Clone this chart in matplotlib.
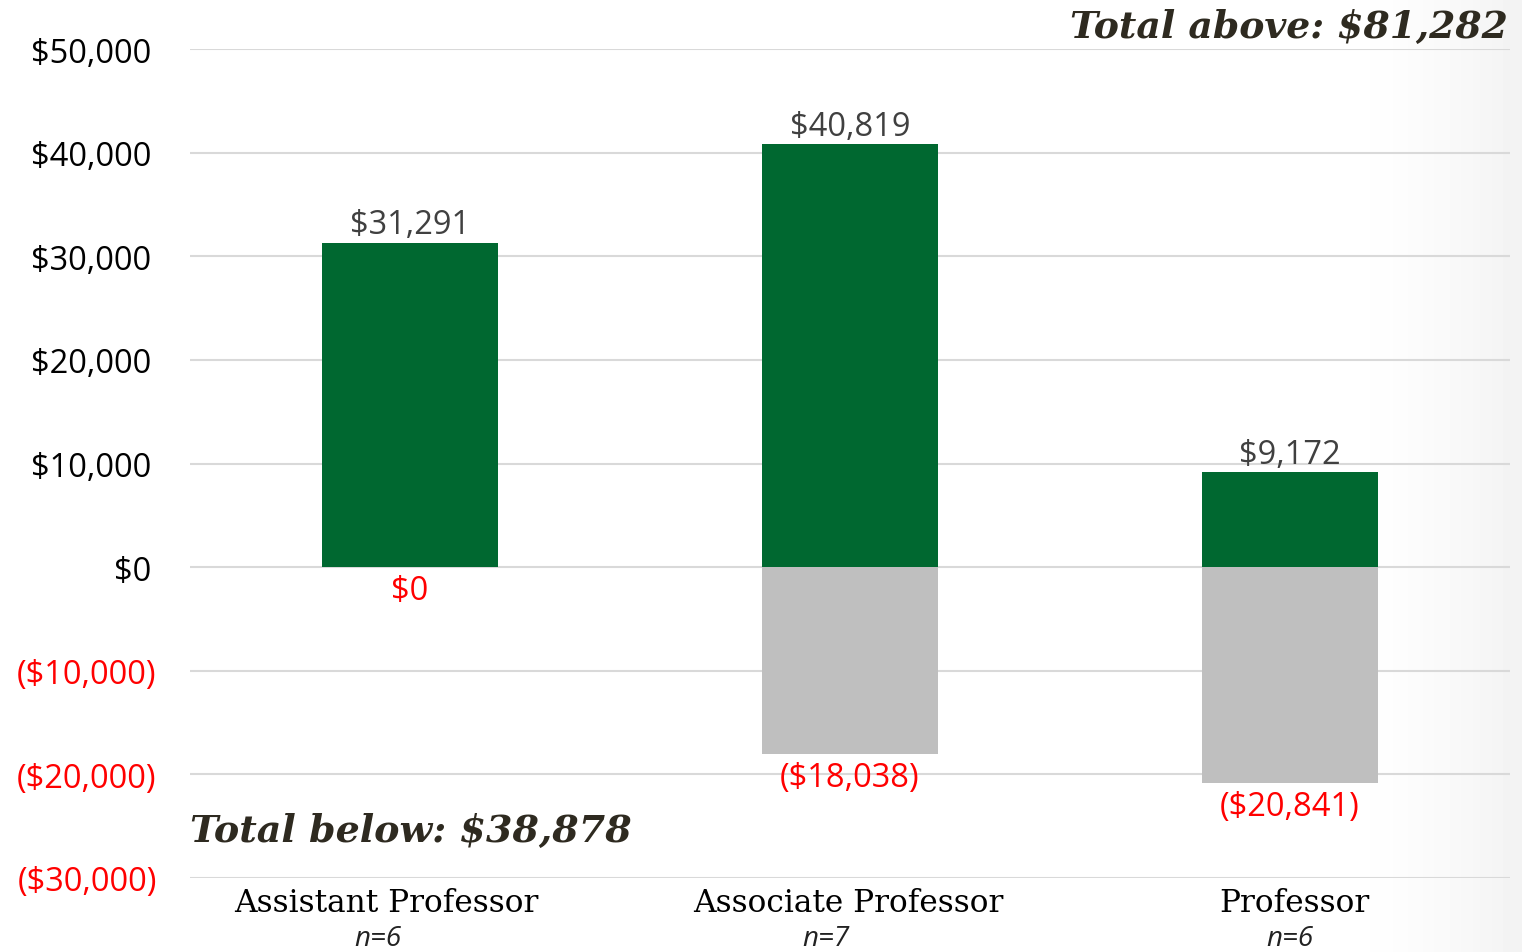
import matplotlib
matplotlib.use("Agg")
import matplotlib.pyplot as plt
import numpy as np

categories = ["Assistant Professor", "Associate Professor", "Professor"]
n_labels = ["n=6", "n=7", "n=6"]
above = [31291, 40819, 9172]
below = [0, -18038, -20841]
total_above = "Total above: $81,282"
total_below = "Total below: $38,878"
yticks = [-30000, -20000, -10000, 0, 10000, 20000, 30000, 40000, 50000]

GREEN = "#006830"
GRAY = "#bfbfbf"
RED = "#ff0000"
DARK = "#2e2a20"

W, H = 1522, 953
fig = plt.figure(figsize=(W / 100, H / 100), dpi=100)

# subtle background shading at right edge
bg = fig.add_axes([0, 0, 1, 1], zorder=-10)
xs = np.linspace(0, 1, 400)
grad = np.clip((xs - 0.88) / 0.12, 0, 1) ** 1.5 * 0.05
img = np.tile(1 - grad, (50, 1))
bg.imshow(img, cmap="gray", vmin=0, vmax=1, aspect="auto", extent=[0, 1, 0, 1])
bg.axis("off")

ax = fig.add_axes([190 / W, (H - 879) / H, 1320 / W, (879 - 50) / H])
ax.patch.set_alpha(0)
x = np.arange(len(categories))
ax.bar(x, above, width=0.4, color=GREEN, zorder=3)
ax.bar(x, below, width=0.4, color=GRAY, zorder=3)

ax.set_xlim(-0.5, 2.5)
ax.set_ylim(-30000, 50000)
ax.set_yticks(yticks)
ax.yaxis.grid(True, color="#d9d9d9", linewidth=1.5, zorder=0)
ax.set_axisbelow(True)
for s in ax.spines.values():
    s.set_visible(False)
ax.tick_params(axis="both", length=0)
ax.set_xticks([])

FS = 23.5


def fmt(v):
    if v < 0:
        return "(${:,})".format(-v)
    return "${:,}".format(v)


def fmt_tick(v):
    return fmt(v) if v < 0 else fmt(v) + "\u2009"


ax.set_yticklabels([fmt_tick(v) for v in yticks], fontfamily="Open Sans", fontsize=FS)
for lbl, v in zip(ax.get_yticklabels(), yticks):
    lbl.set_color(RED if v < 0 else "black")
ax.tick_params(axis="y", pad=24)

for i, (a, b) in enumerate(zip(above, below)):
    ax.annotate(fmt(a), (i, a), xytext=(0, 1), textcoords="offset points",
                ha="center", va="bottom", fontfamily="Open Sans", fontsize=FS,
                color="#404040")
    ax.annotate(fmt(b), (i, b), xytext=(0, -5), textcoords="offset points",
                ha="center", va="top", fontfamily="Open Sans", fontsize=FS,
                color=RED)

cat_x = [386, 848, 1294]
for cx, c in zip(cat_x, categories):
    fig.text(cx / W, 1 - 904 / H, c, ha="center", va="center",
             fontfamily="DejaVu Serif", fontsize=22.5, color="black")

n_x = [378, 826, 1290]
for nx, n in zip(n_x, n_labels):
    fig.text(nx / W, 1 - 939 / H, n, ha="center", va="center",
             fontfamily="Open Sans", fontstyle="italic", fontsize=20, color="#222222")

fig.text(1508 / W, 1 - 27 / H, total_above, ha="right", va="center",
         fontfamily="DejaVu Serif", fontweight="bold", fontstyle="italic",
         fontsize=27.2, color=DARK)
fig.text(190 / W, 1 - 831 / H, total_below, ha="left", va="center",
         fontfamily="DejaVu Serif", fontweight="bold", fontstyle="italic",
         fontsize=27.4, color=DARK)

fig.savefig("out.png", dpi=100)
